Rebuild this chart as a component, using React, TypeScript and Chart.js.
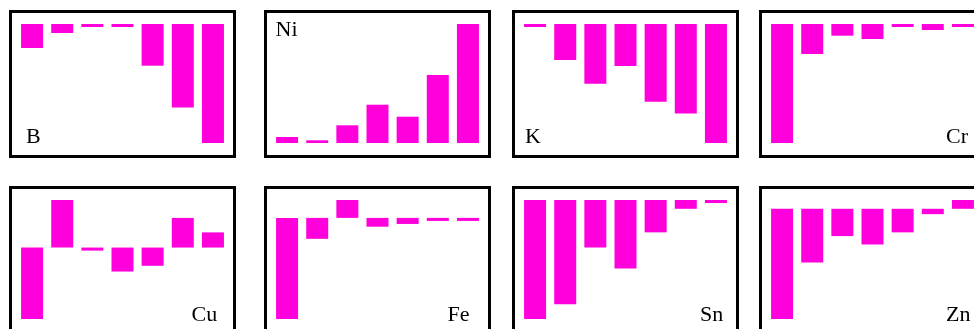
import React, { useEffect, useRef } from "react";
import { Chart, registerables } from "chart.js";

Chart.register(...registerables);

const categories = ["1", "2", "3", "4", "5", "6", "7"];

const B = [-24, -9, -3, -3, -41.7, -83.4, -119];
const Ni = [6, 2.7, 17.7, 38.3, 26.3, 68, 119];
const K = [-3, -36, -59.7, -42, -77.7, -89.4, -119];
const Cr = [-119, -30, -11.7, -15, -3, -6, -3];
const Cu = [-70.6, 47, -3, -23.7, -18, 29.3, 15];
const Fe = [-100, -20.7, 17.7, -8.7, -6, -3, -3];
const Sn = [-117.7, -103, -47, -67.7, -32, -8.7, -3];
const Zn = [-109, -53, -27, -35.3, -23.3, -5.3, 8.7];

const panelNames = ["B", "Ni", "K", "Cr", "Cu", "Fe", "Sn", "Zn"];
const panelValues = [B, Ni, K, Cr, Cu, Fe, Sn, Zn];

const BAR_COLOR = "rgb(255,0,220)";

const PANEL_LEFTS = [9, 264, 512, 759];
const PANEL_TOPS = [10, 186];
const PANEL_W = 227;
const PANEL_H = 148;
const BORDER = 3;

// label placement: left x, baseline y (page coords)
const labelPos: { left: number; baseline: number }[] = [
  { left: 26, baseline: 143 },
  { left: 275.5, baseline: 36.5 },
  { left: 525, baseline: 143 },
  { left: 946, baseline: 143 },
  { left: 191.5, baseline: 321.5 },
  { left: 447.5, baseline: 321.5 },
  { left: 700, baseline: 321.5 },
  { left: 946, baseline: 321.5 },
];

function Panel({ values }: { values: number[] }) {
  const ref = useRef<HTMLCanvasElement | null>(null);
  useEffect(() => {
    if (!ref.current) return;
    const ymin = Math.min(0, ...values);
    const ymax = Math.max(0, ...values);
    const chart = new Chart(ref.current, {
      type: "bar",
      data: {
        labels: categories,
        datasets: [
          {
            data: values,
            backgroundColor: BAR_COLOR,
            borderWidth: 0,
            barPercentage: 0.73,
            categoryPercentage: 1,
          },
        ],
      },
      options: {
        responsive: false,
        animation: false,
        devicePixelRatio: 1,
        layout: { padding: { left: 5, right: 5, top: 11, bottom: 12 } },
        plugins: { legend: { display: false }, tooltip: { enabled: false } },
        scales: {
          x: { display: false },
          y: { display: false, min: ymin, max: ymax },
        },
      },
    });
    return () => chart.destroy();
  }, [values]);
  return (
    <canvas
      ref={ref}
      width={PANEL_W - 2 * BORDER}
      height={PANEL_H - 2 * BORDER}
      style={{ display: "block" }}
    />
  );
}

export default function App() {
  return (
    <div
      style={{
        position: "absolute",
        left: 0,
        top: 0,
        width: 974,
        height: 329,
        overflow: "hidden",
        background: "#fff",
      }}
    >
      {panelValues.map((vals, i) => {
        const col = i % 4;
        const row = Math.floor(i / 4);
        return (
          <div
            key={panelNames[i]}
            style={{
              position: "absolute",
              left: PANEL_LEFTS[col],
              top: PANEL_TOPS[row],
              width: PANEL_W,
              height: PANEL_H,
              border: `${BORDER}px solid #000`,
              boxSizing: "border-box",
              background: "#fff",
            }}
          >
            <Panel values={vals} />
          </div>
        );
      })}
      {panelNames.map((name, i) => (
        <div
          key={"l" + name}
          style={{
            position: "absolute",
            left: labelPos[i].left,
            top: labelPos[i].baseline - 18.4,
            fontFamily: '"Liberation Serif", "Times New Roman", serif',
            fontSize: 22,
            lineHeight: "22px",
            color: "#000",
            whiteSpace: "nowrap",
          }}
        >
          {name}
        </div>
      ))}
    </div>
  );
}
